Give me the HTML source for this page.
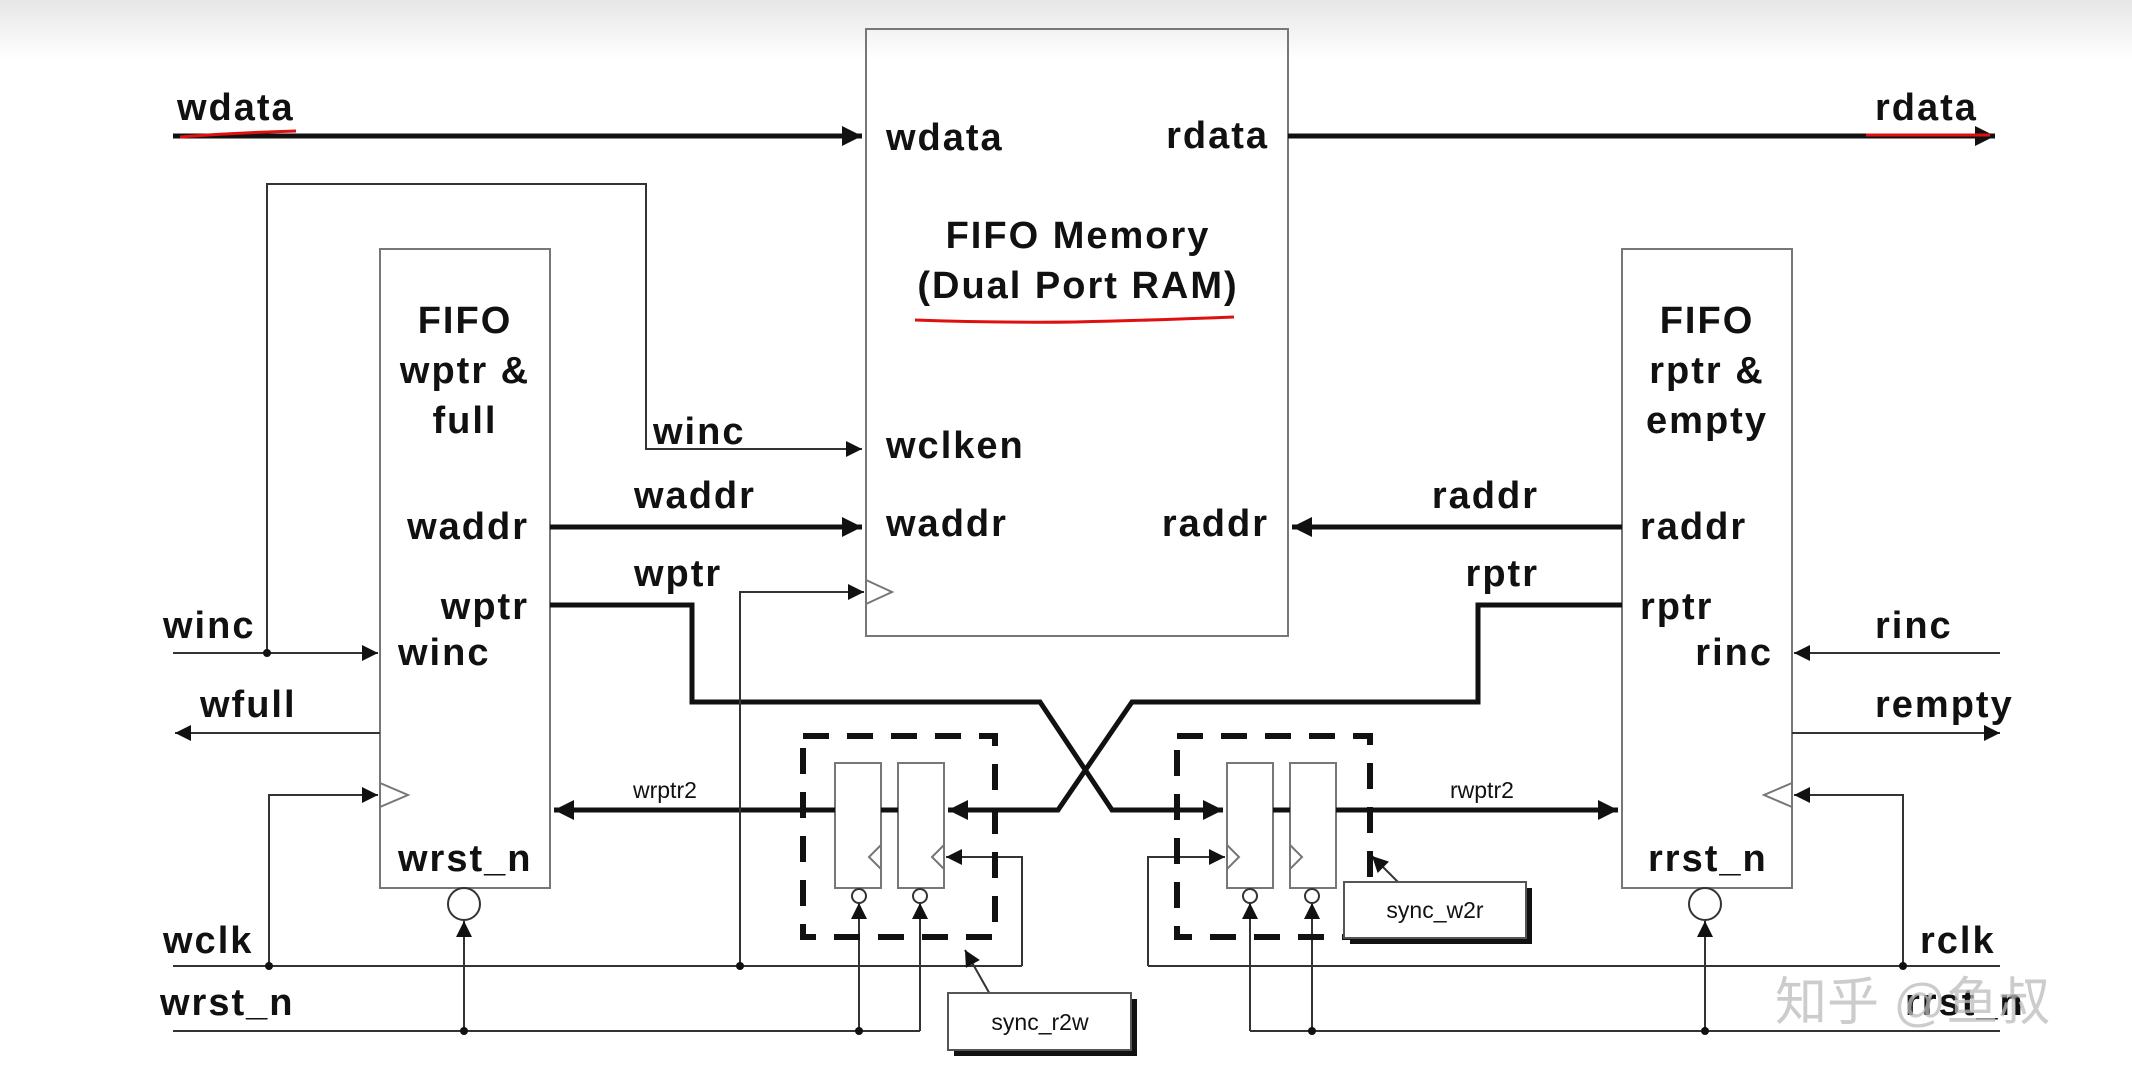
<!DOCTYPE html>
<html><head><meta charset="utf-8"><style>
html,body{margin:0;padding:0;background:#fff;}
svg{display:block;}
text{font-family:"Liberation Sans",Arial,sans-serif;font-weight:bold;fill:#111;dominant-baseline:central;}
.l{font-size:38px;letter-spacing:2px;}
.s{font-size:23px;font-weight:normal;letter-spacing:0;}
</style></head><body>
<svg width="2132" height="1071" viewBox="0 0 2132 1071" xmlns="http://www.w3.org/2000/svg">
<defs>
<linearGradient id="g" x1="0" y1="0" x2="0" y2="1"><stop offset="0" stop-color="#e6e6e6"/><stop offset="1" stop-color="#fff"/></linearGradient>
<marker id="ab" viewBox="0 0 10 10" refX="10" refY="5" markerWidth="26" markerHeight="20" markerUnits="userSpaceOnUse" orient="auto"><path d="M0,0L10,5L0,10z" fill="#111"/></marker>
<marker id="as" viewBox="0 0 10 10" refX="10" refY="5" markerWidth="20" markerHeight="16" markerUnits="userSpaceOnUse" orient="auto"><path d="M0,0L10,5L0,10z" fill="#111"/></marker>
</defs>
<rect width="2132" height="60" fill="url(#g)"/>
<g fill="none" stroke="#777" stroke-width="2">
<rect x="866" y="29" width="422" height="607"/>
<rect x="380" y="249" width="170" height="639"/>
<rect x="1622" y="249" width="170" height="639"/>
<rect x="835" y="763" width="46" height="125"/>
<rect x="898" y="763" width="46" height="125"/>
<rect x="1227" y="763" width="46" height="125"/>
<rect x="1290" y="763" width="46" height="125"/>
<path d="M866,580 L892,592 L866,604"/>
<path d="M380,783 L408,795 L380,807"/>
<path d="M1792,783 L1764,795 L1792,807"/>
<path d="M881,845 L869,857 L881,869 M944,845 L932,857 L944,869"/>
<path d="M1227,845 L1239,857 L1227,869 M1290,845 L1302,857 L1290,869"/>
</g>
<g fill="none" stroke="#111" stroke-width="5">
<line x1="173" y1="136" x2="862" y2="136" marker-end="url(#ab)"/>
<line x1="1288" y1="136" x2="1995" y2="136" marker-end="url(#ab)"/>
<line x1="550" y1="527" x2="862" y2="527" marker-end="url(#ab)"/>
<line x1="1622" y1="527" x2="1292" y2="527" marker-end="url(#ab)"/>
<path d="M550,605 H692 V702 H1040 L1112,810 H1223" marker-end="url(#ab)"/>
<path d="M1622,605 H1478 V702 H1132 L1058,810 H948" marker-end="url(#ab)"/>
<line x1="835" y1="810" x2="554" y2="810" marker-end="url(#ab)"/>
<line x1="881" y1="810" x2="898" y2="810"/>
<line x1="1273" y1="810" x2="1290" y2="810"/>
<line x1="1336" y1="810" x2="1618" y2="810" marker-end="url(#ab)"/>
</g>
<g fill="none" stroke="#333" stroke-width="2">
<path d="M267,653 V184 H646 V449 H862" marker-end="url(#as)"/>
<line x1="173" y1="653" x2="378" y2="653" marker-end="url(#as)"/>
<line x1="380" y1="733" x2="175" y2="733" marker-end="url(#as)"/>
<path d="M269,966 V795 H378" marker-end="url(#as)"/>
<path d="M740,966 V592 H864" marker-end="url(#as)"/>
<line x1="173" y1="966" x2="1022" y2="966"/>
<path d="M1022,966 V857 H946" marker-end="url(#as)"/>
<line x1="173" y1="1031" x2="920" y2="1031"/>
<line x1="464" y1="1031" x2="464" y2="921" marker-end="url(#as)"/>
<line x1="859" y1="1031" x2="859" y2="903" marker-end="url(#as)"/>
<line x1="920" y1="1031" x2="920" y2="903" marker-end="url(#as)"/>
<line x1="2000" y1="653" x2="1794" y2="653" marker-end="url(#as)"/>
<line x1="1792" y1="733" x2="2000" y2="733" marker-end="url(#as)"/>
<line x1="1148" y1="966" x2="2000" y2="966"/>
<path d="M1148,966 V857 H1225" marker-end="url(#as)"/>
<path d="M1903,966 V795 H1794" marker-end="url(#as)"/>
<line x1="1250" y1="1031" x2="2000" y2="1031"/>
<line x1="1250" y1="1031" x2="1250" y2="903" marker-end="url(#as)"/>
<line x1="1312" y1="1031" x2="1312" y2="903" marker-end="url(#as)"/>
<line x1="1705" y1="1031" x2="1705" y2="921" marker-end="url(#as)"/>
<line x1="1000" y1="1012" x2="965" y2="950" marker-end="url(#as)"/>
<line x1="1398" y1="882" x2="1372" y2="856" marker-end="url(#as)"/>
<circle cx="464" cy="904" r="16"/><circle cx="1705" cy="904" r="16"/>
<circle cx="859" cy="896" r="7"/><circle cx="920" cy="896" r="7"/>
<circle cx="1250" cy="896" r="7"/><circle cx="1312" cy="896" r="7"/>
</g>
<g fill="#111">
<circle cx="267" cy="653" r="4"/><circle cx="269" cy="966" r="4"/><circle cx="740" cy="966" r="4"/>
<circle cx="464" cy="1031" r="4"/><circle cx="859" cy="1031" r="4"/><circle cx="1312" cy="1031" r="4"/>
<circle cx="1705" cy="1031" r="4"/><circle cx="1903" cy="966" r="4"/>
</g>
<g fill="none" stroke="#111" stroke-width="6" stroke-dasharray="26,18">
<rect x="803" y="736" width="192" height="201"/>
<rect x="1177" y="736" width="193" height="201"/>
</g>
<rect x="954" y="999" width="183" height="57" fill="#111"/>
<rect x="948" y="993" width="183" height="57" fill="#fff" stroke="#555" stroke-width="2"/>
<rect x="1350" y="888" width="182" height="56" fill="#111"/>
<rect x="1344" y="882" width="182" height="56" fill="#fff" stroke="#555" stroke-width="2"/>
<text x="1040" y="1022" class="s" text-anchor="middle">sync_r2w</text>
<text x="1435" y="910" class="s" text-anchor="middle">sync_w2r</text>
<g fill="none" stroke="#e01010" stroke-width="3">
<path d="M180,137 Q230,133 296,131"/>
<path d="M1866,135 H1990"/>
<path d="M915,320 Q1000,323 1075,322 Q1160,320 1234,317"/>
</g>
<g class="l">
<text x="177" y="108">wdata</text>
<text x="1875" y="108">rdata</text>
<text x="886" y="138">wdata</text>
<text x="1269" y="136" text-anchor="end">rdata</text>
<text x="1078" y="236" text-anchor="middle">FIFO Memory</text>
<text x="1078" y="286" text-anchor="middle">(Dual Port RAM)</text>
<text x="886" y="446">wclken</text>
<text x="886" y="524">waddr</text>
<text x="1269" y="524" text-anchor="end">raddr</text>
<text x="465" y="321" text-anchor="middle">FIFO</text>
<text x="465" y="371" text-anchor="middle">wptr &amp;</text>
<text x="465" y="421" text-anchor="middle">full</text>
<text x="529" y="527" text-anchor="end">waddr</text>
<text x="529" y="607" text-anchor="end">wptr</text>
<text x="398" y="653">winc</text>
<text x="398" y="859">wrst_n</text>
<text x="1707" y="321" text-anchor="middle">FIFO</text>
<text x="1707" y="371" text-anchor="middle">rptr &amp;</text>
<text x="1707" y="421" text-anchor="middle">empty</text>
<text x="1640" y="527">raddr</text>
<text x="1640" y="607">rptr</text>
<text x="1773" y="653" text-anchor="end">rinc</text>
<text x="1648" y="859">rrst_n</text>
<text x="163" y="626">winc</text>
<text x="200" y="705">wfull</text>
<text x="163" y="941">wclk</text>
<text x="160" y="1003">wrst_n</text>
<text x="653" y="432">winc</text>
<text x="634" y="496">waddr</text>
<text x="634" y="574">wptr</text>
<text x="1539" y="496" text-anchor="end">raddr</text>
<text x="1539" y="574" text-anchor="end">rptr</text>
<text x="1875" y="626">rinc</text>
<text x="1875" y="705">rempty</text>
<text x="1920" y="941">rclk</text>
<text x="1905" y="1003">rrst_n</text>
</g>
<text x="633" y="790" class="s">wrptr2</text>
<text x="1450" y="790" class="s">rwptr2</text>
<text x="1775" y="1003" style="font-family:'Liberation Sans','Noto Sans CJK SC',sans-serif;font-size:52px;font-weight:normal;fill:#bbb;fill-opacity:0.75">知乎 @鱼叔</text>
</svg>
</body></html>
